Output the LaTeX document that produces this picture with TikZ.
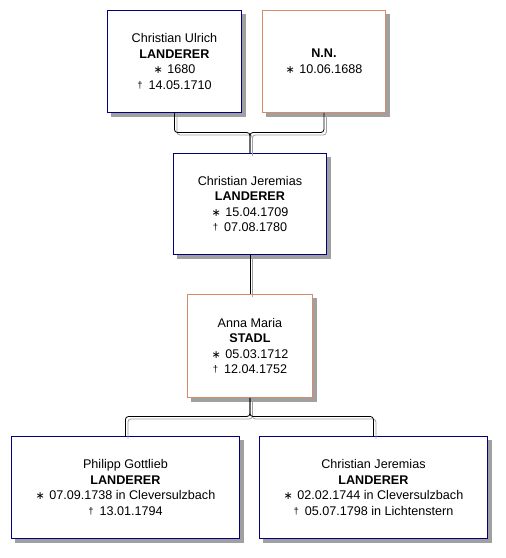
\documentclass[tikz,border=0pt]{standalone}
\usepackage{fontspec}
\setmainfont{Liberation Sans}
\newfontfamily\symf{DejaVu Sans}
\usetikzlibrary{backgrounds}
\definecolor{navy}{RGB}{0,0,128}
\definecolor{salmon}{RGB}{214,140,105}
\definecolor{shade}{RGB}{160,160,160}
\newcommand{\bstar}{{\symf\fontsize{11}{11}\selectfont ∗}\hspace{4.5pt}}
\newcommand{\bdag}{\raisebox{1pt}{\fontsize{9.5}{9.5}\selectfont †}\hspace{6pt}}
\begin{document}
\begin{tikzpicture}[x=1pt,y=-1pt,
  person/.style={draw, line width=0.9pt, fill=white, anchor=north west, align=center,
    inner sep=0pt, font=\fontsize{12.6}{15.5}\selectfont},
  male/.style={person, draw=navy},
  female/.style={person, draw=salmon},
  boxshade/.style={fill=shade, draw=none},
  link/.style={line width=0.8pt, rounded corners=3pt},
  linkshade/.style={link, draw=shade, transform canvas={shift={(2.5pt,-2.5pt)}}}
]
\useasboundingbox (0,0) rectangle (506,558);

\node[male, minimum width=134pt, minimum height=102pt] (b1) at (107,10)
  {Christian Ulrich\\\textbf{LANDERER}\\\bstar1680\\\bdag14.05.1710};
\node[female, minimum width=123pt, minimum height=102pt] (b2) at (262,10)
  {\textbf{N.N.}\\\bstar10.06.1688};
\node[male, minimum width=153pt, minimum height=101pt] (b3) at (173,153)
  {Christian Jeremias\\\textbf{LANDERER}\\\bstar15.04.1709\\\bdag07.08.1780};
\node[female, minimum width=125pt, minimum height=103pt] (b4) at (187,294)
  {Anna Maria\\\textbf{STADL}\\\bstar05.03.1712\\\bdag12.04.1752};
\node[male, minimum width=228pt, minimum height=102pt] (b5) at (11,436)
  {Philipp Gottlieb\\\textbf{LANDERER}\\\bstar07.09.1738 in Cleversulzbach\\\bdag13.01.1794};
\node[male, minimum width=228pt, minimum height=102pt] (b6) at (259,436)
  {Christian Jeremias\\\textbf{LANDERER}\\\bstar02.02.1744 in Cleversulzbach\\\bdag05.07.1798 in Lichtenstern};

\begin{scope}[on background layer]
\foreach \b in {b1,b2,b3,b4,b5,b6}
  \fill[boxshade] ([shift={(4,4)}]\b.north west) rectangle ([shift={(4,4)}]\b.south east);
\end{scope}

\coordinate (j1) at (0,132.5);
\coordinate (j2) at (0,416.5);

\foreach \st in {linkshade, link} {
  \draw[\st] (b1.south) -- (b1.south |- j1) -- (b3.north |- j1) -- (b3.north);
  \draw[\st] (b2.south) -- (b2.south |- j1) -- (b3.north |- j1) -- (b3.north);
  \draw[\st] (b3.south) -- (b4.north);
  \draw[\st] (b4.south) -- (b4.south |- j2) -- (b5.north |- j2) -- (b5.north);
  \draw[\st] (b4.south) -- (b4.south |- j2) -- (b6.north |- j2) -- (b6.north);
}
\end{tikzpicture}
\end{document}
